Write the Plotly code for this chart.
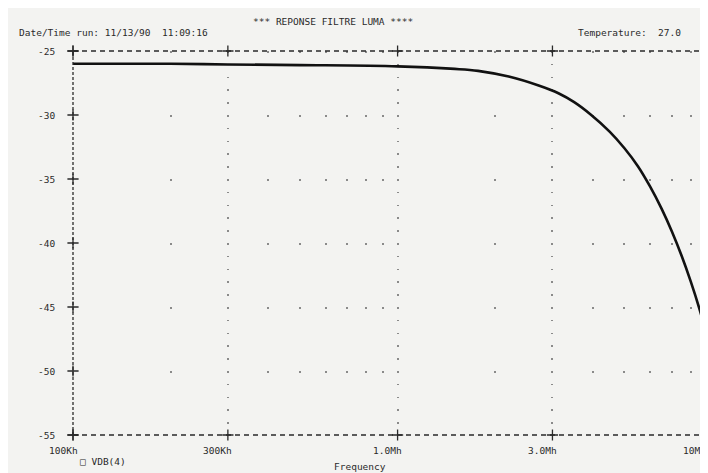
import numpy as np
import plotly.graph_objects as go

freq = [1e5, 2e5, 3e5, 5e5, 1e6, 1.5e6, 1.77e6, 2.2e6, 2.72e6, 3.13e6, 3.5e6,
        3.95e6, 4.5e6, 5.0e6, 5.5e6, 6.0e6, 6.5e6, 7.0e6, 7.5e6, 8.0e6, 8.5e6,
        9.0e6, 9.6e6, 1.0e7]
vdb = [-26.0, -26.0, -26.05, -26.1, -26.2, -26.4, -26.55, -27.0, -27.7, -28.3, -29.0,
       -30.0, -31.3, -32.6, -34.0, -35.6, -37.3, -39.1, -41.0, -43.0, -45.1,
       -47.4, -50.8, -53.2]

# Axes
x_ticks = [1e5, 3e5, 1e6, 3e6]
x_labels = ["100Kh", "300Kh", "1.0Mh", "3.0Mh"]
x_last_label = "10Mh"
y_ticks = [-25, -30, -35, -40, -45, -50, -55]

ink = "#2a2a2a"
grid = "#8a8a8a"
police = dict(family="DejaVu Sans Mono", size=9.5, color=ink)

fig = go.Figure()

fig.add_trace(go.Scatter(
    x=freq, y=vdb, mode="lines",
    line=dict(color="#111111", width=2.6, shape="spline"),
    showlegend=False, hoverinfo="skip",
))

# croix "+" sur les axes
cx = [x_ticks[0]] * len(y_ticks) + x_ticks + x_ticks
cy = y_ticks + [y_ticks[0]] * len(x_ticks) + [y_ticks[-1]] * len(x_ticks)
fig.add_trace(go.Scatter(
    x=cx, y=cy, mode="markers", cliponaxis=False,
    marker=dict(symbol="cross-thin", size=8, line=dict(color=ink, width=1.3)),
    showlegend=False, hoverinfo="skip",
))

# bordures pointillées
for x0, x1, y0, y1, d in [(0, 1, 1, 1, "5px,4px"), (0, 1, 0, 0, "5px,4px"),
                          (0, 0, 0, 1, "3px,2px")]:
    fig.add_shape(type="line", xref="paper", yref="paper", x0=x0, x1=x1, y0=y0, y1=y1,
                  line=dict(color=ink, width=1.3, dash=d))

# étiquettes
ann = []
for v in y_ticks:
    ann.append(dict(x=0, xref="paper", y=v, yref="y", text=str(v), xanchor="right",
                    xshift=-16, showarrow=False, font=police))
for v, t in zip(x_ticks, x_labels):
    ann.append(dict(x=np.log10(v), xref="x", y=0, yref="paper", text=t, yanchor="top",
                    yshift=-8, xshift=-10, showarrow=False, font=police))
ann.append(dict(x=1, xref="paper", y=0, yref="paper", text=x_last_label, xanchor="right",
                yanchor="top", yshift=-8, xshift=-8, showarrow=False, font=police))
ann += [
    dict(x=0.405, xref="paper", y=1, yref="paper", text="*** REPONSE FILTRE LUMA ****",
         showarrow=False, font=police, yanchor="bottom", yshift=22),
    dict(x=0, xref="paper", y=1, yref="paper", text="Date/Time run: 11/13/90  11:09:16",
         showarrow=False, font=police, xanchor="left", yanchor="bottom", xshift=-56, yshift=11),
    dict(x=1, xref="paper", y=1, yref="paper", text="Temperature:  27.0",
         showarrow=False, font=police, xanchor="left", yanchor="bottom", xshift=-140, yshift=11),
    dict(x=0, xref="paper", y=0, yref="paper", text="\u25a1 VDB(4)",
         showarrow=False, font=police, xanchor="left", yanchor="top", xshift=5, yshift=-19),
    dict(x=0.447, xref="paper", y=0, yref="paper", text="Frequency",
         showarrow=False, font=police, yanchor="bottom", yshift=-39),
]

fig.update_layout(
    width=708, height=473,
    margin=dict(l=65, r=0, t=43, b=46),
    paper_bgcolor="#f3f3f1", plot_bgcolor="#f3f3f1",
    annotations=ann,
    xaxis=dict(
        type="log", range=[5, 6.981], tickmode="array", tickvals=x_ticks[1:],
        showticklabels=False, ticks="", showline=False, zeroline=False,
        showgrid=True, gridcolor=grid, gridwidth=1.5, griddash="1.5px,11.3px",
        minor=dict(dtick="D1", showgrid=True, gridcolor=grid, gridwidth=1.6,
                   griddash="2px,62px", ticks=""),
    ),
    yaxis=dict(
        range=[-55, -25], tickvals=y_ticks, showticklabels=False, ticks="",
        showgrid=False, zeroline=False, showline=False,
    ),
)

fig.write_html("out.html")
